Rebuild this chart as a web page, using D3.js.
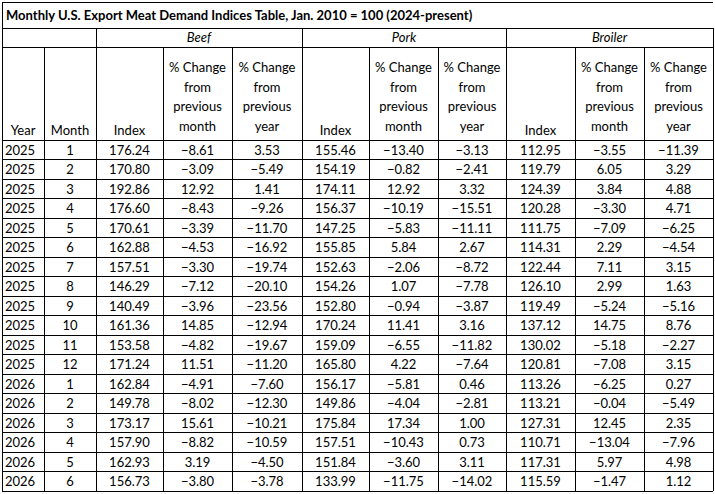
<!DOCTYPE html>
<html><head><meta charset="utf-8">
<script src="https://cdn.jsdelivr.net/npm/d3@7"></script>
<style>body{margin:0;background:#fff}text{font-family:Lato,"Open Sans",sans-serif;font-size:13px;fill:#000}</style>
</head><body><svg id="c" width="715" height="494"></svg>
<script>
var years = [2025,2025,2025,2025,2025,2025,2025,2025,2025,2025,2025,2025,2026,2026,2026,2026,2026,2026];
var months = [1,2,3,4,5,6,7,8,9,10,11,12,1,2,3,4,5,6];
var beefIndex = [176.24,170.80,192.86,176.60,170.61,162.88,157.51,146.29,140.49,161.36,153.58,171.24,162.84,149.78,173.17,157.90,162.93,156.73];
var beefMonth = [-8.61,-3.09,12.92,-8.43,-3.39,-4.53,-3.30,-7.12,-3.96,14.85,-4.82,11.51,-4.91,-8.02,15.61,-8.82,3.19,-3.80];
var beefYear = [3.53,-5.49,1.41,-9.26,-11.70,-16.92,-19.74,-20.10,-23.56,-12.94,-19.67,-11.20,-7.60,-12.30,-10.21,-10.59,-4.50,-3.78];
var porkIndex = [155.46,154.19,174.11,156.37,147.25,155.85,152.63,154.26,152.80,170.24,159.09,165.80,156.17,149.86,175.84,157.51,151.84,133.99];
var porkMonth = [-13.40,-0.82,12.92,-10.19,-5.83,5.84,-2.06,1.07,-0.94,11.41,-6.55,4.22,-5.81,-4.04,17.34,-10.43,-3.60,-11.75];
var porkYear = [-3.13,-2.41,3.32,-15.51,-11.11,2.67,-8.72,-7.78,-3.87,3.16,-11.82,-7.64,0.46,-2.81,1.00,0.73,3.11,-14.02];
var broIndex = [112.95,119.79,124.39,120.28,111.75,114.31,122.44,126.10,119.49,137.12,130.02,120.81,113.26,113.21,127.31,110.71,117.31,115.59];
var broMonth = [-3.55,6.05,3.84,-3.30,-7.09,2.29,7.11,2.99,-5.24,14.75,-5.18,-7.08,-6.25,-0.04,12.45,-13.04,5.97,-1.47];
var broYear = [-11.39,3.29,4.88,4.71,-6.25,-4.54,3.15,1.63,-5.16,8.76,-2.27,3.15,0.27,-5.49,2.35,-7.96,4.98,1.12];
var groups = ["Beef","Pork","Broiler"];
var title = "Monthly U.S. Export Meat Demand Indices Table, Jan. 2010 = 100 (2024-present)";

var edges = [2,44,96,163,232,302,369,438,506,575,644,713];
var svg = d3.select("#c");
var y = d3.scaleBand().domain(d3.range(years.length)).range([140,491]);
var cols = [years,months,beefIndex,beefMonth,beefYear,porkIndex,porkMonth,porkYear,broIndex,broMonth,broYear];
var fmt = d3.format(".2f");

function line(x1,y1,x2,y2){svg.append("line").attr("x1",x1).attr("y1",y1).attr("x2",x2).attr("y2",y2).attr("stroke","#000").attr("stroke-width",1).attr("shape-rendering","crispEdges");}

// title
svg.append("text").attr("x",6).attr("y",20).style("font-weight","bold").text(title);
line(2,2,713,2); line(2,2,2,491); line(713,28,713,491);
line(2,28,713,28); line(2,47,713,47);
// group row verticals
[96,302,506].forEach(function(x){line(x,28,x,47);});
groups.forEach(function(g,i){
  var a=edges[2+i*3], b=edges[5+i*3];
  svg.append("text").attr("x",(a+b)/2).attr("y",42).attr("text-anchor","middle").style("font-style","italic").text(g);
});
// header
edges.forEach(function(x){line(x,47,x,491);});
var heads = [["Year"],["Month"],["Index"],["% Change","from","previous","month"],["% Change","from","previous","year"]];
var allHeads = heads.concat(heads.slice(2),heads.slice(2));
allHeads.forEach(function(h,i){
  var cx=(edges[i]+edges[i+1])/2;
  if(h.length==1){svg.append("text").attr("x",cx).attr("y",135).attr("text-anchor","middle").text(h[0]);}
  else h.forEach(function(t,k){svg.append("text").attr("x",cx).attr("y",72+k*19.5).attr("text-anchor","middle").text(t);});
});
// rows
y.domain().forEach(function(r){line(2,y(r),713,y(r));});
line(2,491,713,491);
cols.forEach(function(arr,c){
  svg.append("g").selectAll("text").data(arr).join("text")
    .attr("x",c==0?edges[0]+3:(edges[c]+edges[c+1])/2)
    .attr("y",function(d,i){return y(i)+y.bandwidth()/2+5;})
    .attr("text-anchor",c==0?"start":"middle")
    .text(function(d){return c<2?d:fmt(d);});
});
</script></body></html>
